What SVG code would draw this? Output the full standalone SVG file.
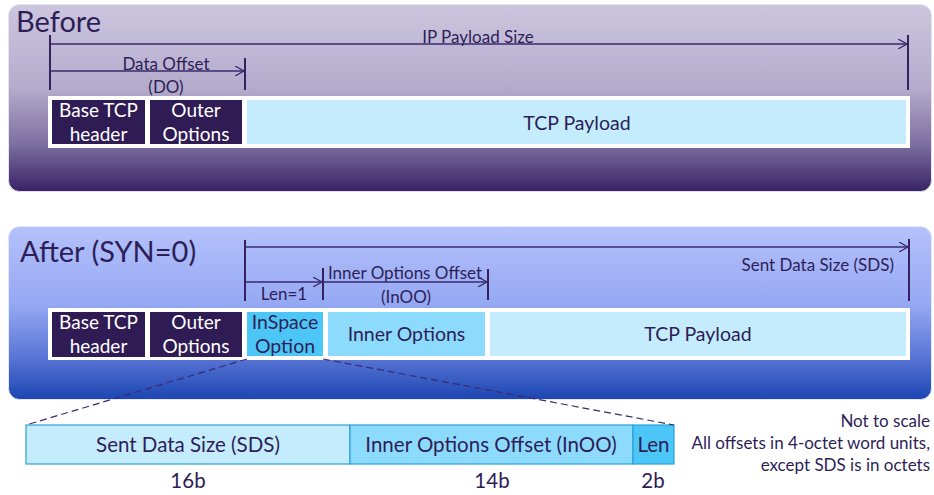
<svg xmlns="http://www.w3.org/2000/svg" width="934" height="495" viewBox="0 0 934 495">
  <defs>
    <linearGradient id="gradBefore" x1="0" y1="0" x2="0" y2="1">
      <stop offset="0" stop-color="#ccc6df"/>
      <stop offset="0.45" stop-color="#b4abcc"/>
      <stop offset="0.75" stop-color="#7c6e9f"/>
      <stop offset="1" stop-color="#382266"/>
    </linearGradient>
    <linearGradient id="gradAfter" x1="0" y1="0" x2="0" y2="1">
      <stop offset="0" stop-color="#b4c1fb"/>
      <stop offset="0.45" stop-color="#95a8f3"/>
      <stop offset="0.75" stop-color="#5a76d6"/>
      <stop offset="1" stop-color="#1c46b2"/>
    </linearGradient>
    <marker id="arr" viewBox="0 0 10 10" refX="9" refY="5" markerWidth="10" markerHeight="10" markerUnits="userSpaceOnUse" orient="auto">
      <path d="M0,0 L9,5 L0,10" fill="none" stroke="#3a2a6e" stroke-width="1.2"/>
    </marker>
  </defs>
  <style>
    text { font-family: Lato, "Open Sans", "Liberation Sans", sans-serif; fill: #2e1e58; }
    .title { font-size: 29px; }
    .lbl { font-size: 17px; }
    .box { font-size: 19.5px; text-anchor: middle; }
    .wbox { font-size: 19px; text-anchor: middle; fill: #ffffff; }
    .tbl { font-size: 20.5px; text-anchor: middle; }
    .note { font-size: 17px; text-anchor: end; }
    .tick { stroke: #34225e; stroke-width: 2; }
    .dim { stroke: #3a2a6e; stroke-width: 1.5; fill: none; }
    .frame { fill: #ffffff; }
    .dark { fill: #301c54; }
    .pay { fill: #c4ecfc; }
    .inner { fill: #8cdafc; }
    .insp { fill: #4cc6f6; }
    .cell { stroke: #2aa0d8; stroke-width: 1.2; }
    .dash { stroke: #3a2a6e; stroke-width: 1.2; stroke-dasharray: 7 4; fill: none; }
  </style>

  <!-- panel backgrounds -->
  <g id="panel-before">
    <rect x="8.5" y="4.5" width="923" height="187" rx="11" fill="url(#gradBefore)" stroke="#e6e2ee" stroke-width="1"/>
    <text class="title" x="16" y="32">Before</text>
  </g>
  <g id="panel-after">
    <rect x="8.5" y="226.5" width="923" height="173" rx="11" fill="url(#gradAfter)" stroke="#e4e8fb" stroke-width="1"/>
    <text class="title" x="20" y="262">After (SYN=0)</text>
  </g>

  <!-- Before: segment layout -->
  <g id="before-segment">
    <rect class="frame" x="48" y="96" width="862" height="52"/>
    <g id="before-base">
      <rect class="dark" x="52" y="100" width="93" height="44"/>
      <text class="wbox" x="98.5" y="117">Base TCP</text>
      <text class="wbox" x="98.5" y="141">header</text>
    </g>
    <g id="before-outer">
      <rect class="dark" x="150" y="100" width="92" height="44"/>
      <text class="wbox" x="196" y="117">Outer</text>
      <text class="wbox" x="196" y="141">Options</text>
    </g>
    <g id="before-payload">
      <rect class="pay" x="247" y="100" width="659" height="44"/>
      <text class="box" x="577" y="130">TCP Payload</text>
    </g>
  </g>

  <!-- After: segment layout -->
  <g id="after-segment">
    <rect class="frame" x="48" y="308" width="862" height="52"/>
    <g id="after-base">
      <rect class="dark" x="52" y="312" width="93" height="45"/>
      <text class="wbox" x="98.5" y="329">Base TCP</text>
      <text class="wbox" x="98.5" y="353">header</text>
    </g>
    <g id="after-outer">
      <rect class="dark" x="150" y="312" width="92" height="45"/>
      <text class="wbox" x="196" y="329">Outer</text>
      <text class="wbox" x="196" y="353">Options</text>
    </g>
    <g id="after-inspace">
      <rect class="insp" x="247" y="312" width="76" height="44"/>
      <text class="box" x="285" y="329">InSpace</text>
      <text class="box" x="285" y="353">Option</text>
    </g>
    <g id="after-inner">
      <rect class="inner" x="328" y="312" width="157" height="44"/>
      <text class="box" x="406.5" y="341">Inner Options</text>
    </g>
    <g id="after-payload">
      <rect class="pay" x="490" y="312" width="416" height="44"/>
      <text class="box" x="698" y="341">TCP Payload</text>
    </g>
  </g>

  <!-- InSpace option field breakdown -->
  <g id="inspace-fields">
    <g id="field-sds">
      <rect class="pay cell" x="26" y="425" width="324" height="39"/>
      <text class="tbl" x="188" y="452">Sent Data Size (SDS)</text>
      <text class="tbl" x="188" y="488">16b</text>
    </g>
    <g id="field-inoo">
      <rect class="inner cell" x="350" y="425" width="283" height="39"/>
      <text class="tbl" x="491" y="452">Inner Options Offset (InOO)</text>
      <text class="tbl" x="492" y="488">14b</text>
    </g>
    <g id="field-len">
      <rect class="insp cell" x="633" y="425" width="41" height="39"/>
      <text class="tbl" x="653.5" y="452">Len</text>
      <text class="tbl" x="653" y="488">2b</text>
    </g>
  </g>

  <g id="notes">
    <text class="note" x="930" y="427">Not to scale</text>
    <text class="note" x="930" y="449">All offsets in 4-octet word units,</text>
    <text class="note" x="930" y="471">except SDS is in octets</text>
  </g>

  <!-- dimension lines and callout connectors -->
  <g id="connectors">
    <!-- Before -->
    <line class="tick" x1="50" y1="35" x2="50" y2="90"/>
    <line class="tick" x1="908" y1="35" x2="908" y2="90"/>
    <line class="tick" x1="245" y1="58" x2="245" y2="90"/>
    <line class="dim" x1="50" y1="44" x2="907" y2="44" marker-end="url(#arr)"/>
    <line class="dim" x1="50" y1="71" x2="244" y2="71" marker-end="url(#arr)"/>
    <text class="lbl" x="478" y="43" text-anchor="middle">IP Payload Size</text>
    <text class="lbl" x="166" y="70" text-anchor="middle">Data Offset</text>
    <text class="lbl" x="166" y="93" text-anchor="middle">(DO)</text>

    <!-- After -->
    <line class="tick" x1="245" y1="240" x2="245" y2="301"/>
    <line class="tick" x1="909" y1="239" x2="909" y2="301"/>
    <line class="tick" x1="323" y1="268" x2="323" y2="300"/>
    <line class="tick" x1="488" y1="269" x2="488" y2="300"/>
    <line class="dim" x1="245" y1="247" x2="908" y2="247" marker-end="url(#arr)"/>
    <line class="dim" x1="245" y1="282" x2="322" y2="282" marker-end="url(#arr)"/>
    <line class="dim" x1="323" y1="282" x2="487" y2="282" marker-end="url(#arr)"/>
    <text class="lbl" x="894" y="271" text-anchor="end">Sent Data Size (SDS)</text>
    <text class="lbl" x="284" y="300" text-anchor="middle">Len=1</text>
    <text class="lbl" x="405" y="279" text-anchor="middle">Inner Options Offset</text>
    <text class="lbl" x="406" y="303" text-anchor="middle">(InOO)</text>

    <!-- zoom callout from the InSpace option to its fields -->
    <line class="dash" x1="247" y1="359" x2="26" y2="425"/>
    <line class="dash" x1="323" y1="359" x2="674" y2="425"/>
  </g>
</svg>
